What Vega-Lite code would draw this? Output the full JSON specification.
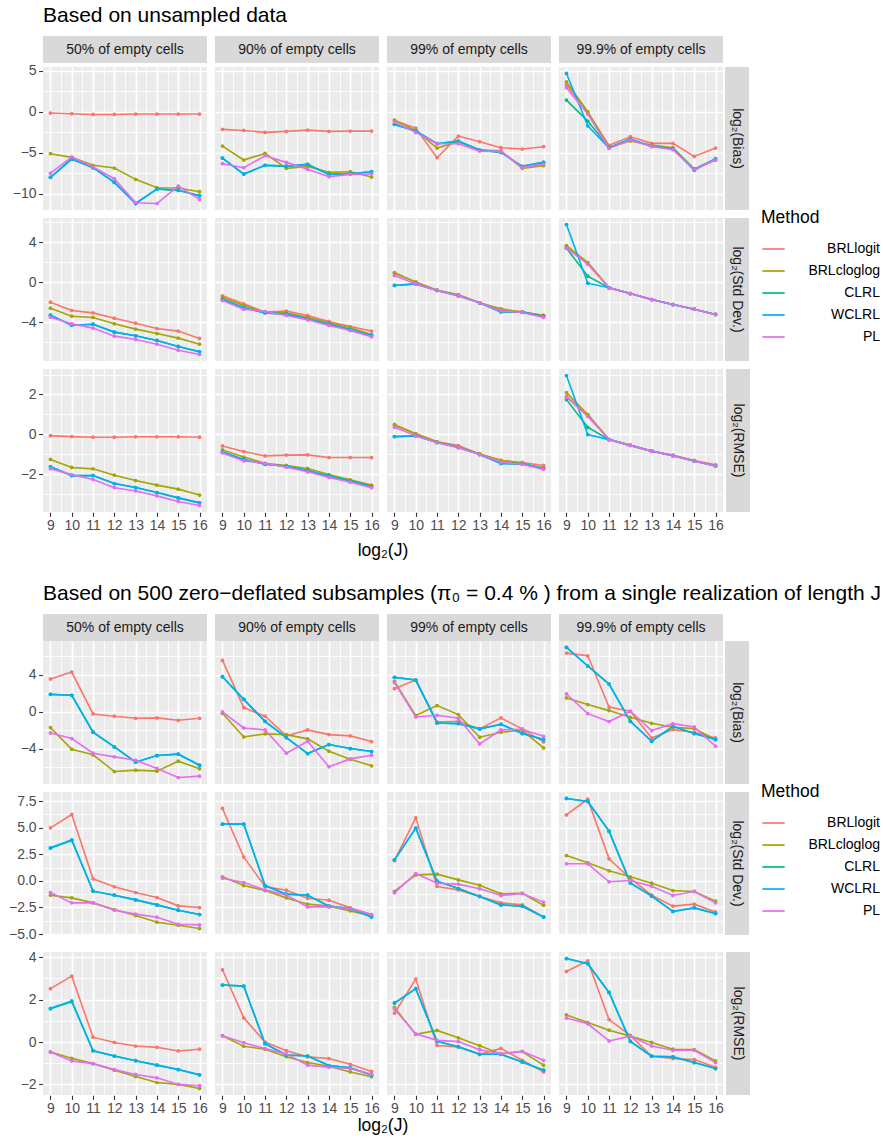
{
"$schema": "https://vega.github.io/schema/vega-lite/v6.json",
"autosize": {"type": "pad"},
"padding": {"left": 8, "top": 5, "right": 5, "bottom": 5},
"datasets": {
"top": [
{"s":"50","k":"BRLlogit","J":9,"b":-0.16,"sd":-1.99,"r":-0.07},
{"s":"50","k":"BRLlogit","J":10,"b":-0.24,"sd":-2.82,"r":-0.12},
{"s":"50","k":"BRLlogit","J":11,"b":-0.33,"sd":-3.06,"r":-0.15},
{"s":"50","k":"BRLlogit","J":12,"b":-0.33,"sd":-3.59,"r":-0.15},
{"s":"50","k":"BRLlogit","J":13,"b":-0.28,"sd":-4.09,"r":-0.13},
{"s":"50","k":"BRLlogit","J":14,"b":-0.28,"sd":-4.62,"r":-0.13},
{"s":"50","k":"BRLlogit","J":15,"b":-0.28,"sd":-4.88,"r":-0.13},
{"s":"50","k":"BRLlogit","J":16,"b":-0.28,"sd":-5.61,"r":-0.15},
{"s":"50","k":"BRLcloglog","J":9,"b":-5.12,"sd":-2.59,"r":-1.27},
{"s":"50","k":"BRLcloglog","J":10,"b":-5.57,"sd":-3.39,"r":-1.67},
{"s":"50","k":"BRLcloglog","J":11,"b":-6.54,"sd":-3.52,"r":-1.74},
{"s":"50","k":"BRLcloglog","J":12,"b":-6.87,"sd":-4.15,"r":-2.06},
{"s":"50","k":"BRLcloglog","J":13,"b":-8.25,"sd":-4.68,"r":-2.33},
{"s":"50","k":"BRLcloglog","J":14,"b":-9.27,"sd":-5.12,"r":-2.56},
{"s":"50","k":"BRLcloglog","J":15,"b":-9.31,"sd":-5.58,"r":-2.76},
{"s":"50","k":"BRLcloglog","J":16,"b":-9.76,"sd":-6.18,"r":-3.06},
{"s":"50","k":"CLRL","J":9,"b":-8.0,"sd":-3.29,"r":-1.64},
{"s":"50","k":"CLRL","J":10,"b":-5.77,"sd":-4.29,"r":-2.08},
{"s":"50","k":"CLRL","J":11,"b":-6.83,"sd":-4.19,"r":-2.08},
{"s":"50","k":"CLRL","J":12,"b":-8.62,"sd":-4.98,"r":-2.48},
{"s":"50","k":"CLRL","J":13,"b":-11.2,"sd":-5.35,"r":-2.68},
{"s":"50","k":"CLRL","J":14,"b":-9.43,"sd":-5.81,"r":-2.93},
{"s":"50","k":"CLRL","J":15,"b":-9.59,"sd":-6.41,"r":-3.2},
{"s":"50","k":"CLRL","J":16,"b":-10.24,"sd":-6.94,"r":-3.45},
{"s":"50","k":"WCLRL","J":9,"b":-8.0,"sd":-3.29,"r":-1.64},
{"s":"50","k":"WCLRL","J":10,"b":-5.77,"sd":-4.29,"r":-2.08},
{"s":"50","k":"WCLRL","J":11,"b":-6.83,"sd":-4.19,"r":-2.08},
{"s":"50","k":"WCLRL","J":12,"b":-8.62,"sd":-4.98,"r":-2.48},
{"s":"50","k":"WCLRL","J":13,"b":-11.2,"sd":-5.35,"r":-2.68},
{"s":"50","k":"WCLRL","J":14,"b":-9.43,"sd":-5.81,"r":-2.93},
{"s":"50","k":"WCLRL","J":15,"b":-9.59,"sd":-6.41,"r":-3.2},
{"s":"50","k":"WCLRL","J":16,"b":-10.24,"sd":-6.94,"r":-3.45},
{"s":"50","k":"PL","J":9,"b":-7.48,"sd":-3.49,"r":-1.74},
{"s":"50","k":"PL","J":10,"b":-5.53,"sd":-4.15,"r":-2.03},
{"s":"50","k":"PL","J":11,"b":-6.75,"sd":-4.58,"r":-2.28},
{"s":"50","k":"PL","J":12,"b":-8.17,"sd":-5.38,"r":-2.69},
{"s":"50","k":"PL","J":13,"b":-11.1,"sd":-5.71,"r":-2.85},
{"s":"50","k":"PL","J":14,"b":-11.2,"sd":-6.18,"r":-3.1},
{"s":"50","k":"PL","J":15,"b":-9.07,"sd":-6.78,"r":-3.38},
{"s":"50","k":"PL","J":16,"b":-10.7,"sd":-7.21,"r":-3.58},
{"s":"90","k":"BRLlogit","J":9,"b":-2.15,"sd":-1.36,"r":-0.59},
{"s":"90","k":"BRLlogit","J":10,"b":-2.28,"sd":-2.16,"r":-0.87},
{"s":"90","k":"BRLlogit","J":11,"b":-2.52,"sd":-2.99,"r":-1.09},
{"s":"90","k":"BRLlogit","J":12,"b":-2.4,"sd":-2.89,"r":-1.05},
{"s":"90","k":"BRLlogit","J":13,"b":-2.24,"sd":-3.32,"r":-1.04},
{"s":"90","k":"BRLlogit","J":14,"b":-2.4,"sd":-3.92,"r":-1.17},
{"s":"90","k":"BRLlogit","J":15,"b":-2.36,"sd":-4.42,"r":-1.17},
{"s":"90","k":"BRLlogit","J":16,"b":-2.36,"sd":-4.88,"r":-1.17},
{"s":"90","k":"BRLcloglog","J":9,"b":-4.19,"sd":-1.53,"r":-0.79},
{"s":"90","k":"BRLcloglog","J":10,"b":-5.89,"sd":-2.33,"r":-1.15},
{"s":"90","k":"BRLcloglog","J":11,"b":-5.08,"sd":-2.99,"r":-1.46},
{"s":"90","k":"BRLcloglog","J":12,"b":-6.91,"sd":-3.09,"r":-1.57},
{"s":"90","k":"BRLcloglog","J":13,"b":-6.67,"sd":-3.49,"r":-1.72},
{"s":"90","k":"BRLcloglog","J":14,"b":-7.4,"sd":-4.05,"r":-2.03},
{"s":"90","k":"BRLcloglog","J":15,"b":-7.32,"sd":-4.55,"r":-2.29},
{"s":"90","k":"BRLcloglog","J":16,"b":-7.97,"sd":-5.22,"r":-2.56},
{"s":"90","k":"CLRL","J":9,"b":-5.65,"sd":-1.69,"r":-0.89},
{"s":"90","k":"CLRL","J":10,"b":-7.6,"sd":-2.56,"r":-1.27},
{"s":"90","k":"CLRL","J":11,"b":-6.54,"sd":-3.06,"r":-1.51},
{"s":"90","k":"CLRL","J":12,"b":-6.63,"sd":-3.19,"r":-1.61},
{"s":"90","k":"CLRL","J":13,"b":-6.42,"sd":-3.65,"r":-1.82},
{"s":"90","k":"CLRL","J":14,"b":-7.64,"sd":-4.19,"r":-2.11},
{"s":"90","k":"CLRL","J":15,"b":-7.56,"sd":-4.72,"r":-2.34},
{"s":"90","k":"CLRL","J":16,"b":-7.32,"sd":-5.32,"r":-2.63},
{"s":"90","k":"WCLRL","J":9,"b":-5.65,"sd":-1.69,"r":-0.89},
{"s":"90","k":"WCLRL","J":10,"b":-7.6,"sd":-2.56,"r":-1.27},
{"s":"90","k":"WCLRL","J":11,"b":-6.54,"sd":-3.06,"r":-1.51},
{"s":"90","k":"WCLRL","J":12,"b":-6.63,"sd":-3.19,"r":-1.61},
{"s":"90","k":"WCLRL","J":13,"b":-6.42,"sd":-3.65,"r":-1.82},
{"s":"90","k":"WCLRL","J":14,"b":-7.64,"sd":-4.19,"r":-2.11},
{"s":"90","k":"WCLRL","J":15,"b":-7.56,"sd":-4.72,"r":-2.34},
{"s":"90","k":"WCLRL","J":16,"b":-7.32,"sd":-5.32,"r":-2.63},
{"s":"90","k":"PL","J":9,"b":-6.34,"sd":-1.83,"r":-0.94},
{"s":"90","k":"PL","J":10,"b":-6.83,"sd":-2.69,"r":-1.34},
{"s":"90","k":"PL","J":11,"b":-5.37,"sd":-2.92,"r":-1.46},
{"s":"90","k":"PL","J":12,"b":-6.18,"sd":-3.32,"r":-1.66},
{"s":"90","k":"PL","J":13,"b":-7.03,"sd":-3.75,"r":-1.89},
{"s":"90","k":"PL","J":14,"b":-7.93,"sd":-4.32,"r":-2.18},
{"s":"90","k":"PL","J":15,"b":-7.64,"sd":-4.82,"r":-2.41},
{"s":"90","k":"PL","J":16,"b":-7.6,"sd":-5.45,"r":-2.69},
{"s":"99","k":"BRLlogit","J":9,"b":-1.06,"sd":0.86,"r":0.44},
{"s":"99","k":"BRLlogit","J":10,"b":-1.99,"sd":0.03,"r":0.03},
{"s":"99","k":"BRLlogit","J":11,"b":-5.61,"sd":-0.8,"r":-0.38},
{"s":"99","k":"BRLlogit","J":12,"b":-2.97,"sd":-1.26,"r":-0.57},
{"s":"99","k":"BRLlogit","J":13,"b":-3.66,"sd":-2.06,"r":-0.99},
{"s":"99","k":"BRLlogit","J":14,"b":-4.39,"sd":-2.76,"r":-1.32},
{"s":"99","k":"BRLlogit","J":15,"b":-4.55,"sd":-2.96,"r":-1.42},
{"s":"99","k":"BRLlogit","J":16,"b":-4.27,"sd":-3.32,"r":-1.57},
{"s":"99","k":"BRLcloglog","J":9,"b":-1.02,"sd":0.96,"r":0.49},
{"s":"99","k":"BRLcloglog","J":10,"b":-2.28,"sd":0.0,"r":0.02},
{"s":"99","k":"BRLcloglog","J":11,"b":-4.43,"sd":-0.8,"r":-0.38},
{"s":"99","k":"BRLcloglog","J":12,"b":-3.66,"sd":-1.26,"r":-0.62},
{"s":"99","k":"BRLcloglog","J":13,"b":-4.67,"sd":-2.06,"r":-0.99},
{"s":"99","k":"BRLcloglog","J":14,"b":-4.76,"sd":-2.66,"r":-1.31},
{"s":"99","k":"BRLcloglog","J":15,"b":-6.91,"sd":-2.99,"r":-1.47},
{"s":"99","k":"BRLcloglog","J":16,"b":-6.59,"sd":-3.32,"r":-1.69},
{"s":"99","k":"CLRL","J":9,"b":-1.54,"sd":-0.33,"r":-0.12},
{"s":"99","k":"CLRL","J":10,"b":-2.36,"sd":-0.17,"r":-0.08},
{"s":"99","k":"CLRL","J":11,"b":-3.9,"sd":-0.83,"r":-0.42},
{"s":"99","k":"CLRL","J":12,"b":-3.58,"sd":-1.36,"r":-0.67},
{"s":"99","k":"CLRL","J":13,"b":-4.67,"sd":-2.06,"r":-1.02},
{"s":"99","k":"CLRL","J":14,"b":-4.96,"sd":-2.96,"r":-1.47},
{"s":"99","k":"CLRL","J":15,"b":-6.67,"sd":-2.99,"r":-1.49},
{"s":"99","k":"CLRL","J":16,"b":-6.18,"sd":-3.42,"r":-1.72},
{"s":"99","k":"WCLRL","J":9,"b":-1.54,"sd":-0.33,"r":-0.12},
{"s":"99","k":"WCLRL","J":10,"b":-2.36,"sd":-0.17,"r":-0.08},
{"s":"99","k":"WCLRL","J":11,"b":-3.9,"sd":-0.83,"r":-0.42},
{"s":"99","k":"WCLRL","J":12,"b":-3.58,"sd":-1.36,"r":-0.67},
{"s":"99","k":"WCLRL","J":13,"b":-4.67,"sd":-2.06,"r":-1.02},
{"s":"99","k":"WCLRL","J":14,"b":-4.96,"sd":-2.96,"r":-1.47},
{"s":"99","k":"WCLRL","J":15,"b":-6.67,"sd":-2.99,"r":-1.49},
{"s":"99","k":"WCLRL","J":16,"b":-6.18,"sd":-3.42,"r":-1.72},
{"s":"99","k":"PL","J":9,"b":-1.26,"sd":0.66,"r":0.35},
{"s":"99","k":"PL","J":10,"b":-2.52,"sd":-0.17,"r":-0.08},
{"s":"99","k":"PL","J":11,"b":-3.9,"sd":-0.83,"r":-0.42},
{"s":"99","k":"PL","J":12,"b":-3.9,"sd":-1.36,"r":-0.67},
{"s":"99","k":"PL","J":13,"b":-4.8,"sd":-2.06,"r":-1.02},
{"s":"99","k":"PL","J":14,"b":-4.84,"sd":-2.86,"r":-1.41},
{"s":"99","k":"PL","J":15,"b":-6.79,"sd":-3.02,"r":-1.51},
{"s":"99","k":"PL","J":16,"b":-6.42,"sd":-3.52,"r":-1.77},
{"s":"99.9","k":"BRLlogit","J":9,"b":3.33,"sd":3.59,"r":1.91},
{"s":"99.9","k":"BRLlogit","J":10,"b":-0.08,"sd":1.93,"r":0.99},
{"s":"99.9","k":"BRLlogit","J":11,"b":-4.1,"sd":-0.56,"r":-0.27},
{"s":"99.9","k":"BRLlogit","J":12,"b":-3.05,"sd":-1.13,"r":-0.55},
{"s":"99.9","k":"BRLlogit","J":13,"b":-3.86,"sd":-1.73,"r":-0.84},
{"s":"99.9","k":"BRLlogit","J":14,"b":-3.86,"sd":-2.23,"r":-1.05},
{"s":"99.9","k":"BRLlogit","J":15,"b":-5.45,"sd":-2.69,"r":-1.32},
{"s":"99.9","k":"BRLlogit","J":16,"b":-4.43,"sd":-3.22,"r":-1.54},
{"s":"99.9","k":"BRLcloglog","J":9,"b":3.66,"sd":3.65,"r":2.09},
{"s":"99.9","k":"BRLcloglog","J":10,"b":0.0,"sd":1.96,"r":0.99},
{"s":"99.9","k":"BRLcloglog","J":11,"b":-4.35,"sd":-0.56,"r":-0.27},
{"s":"99.9","k":"BRLcloglog","J":12,"b":-3.58,"sd":-1.13,"r":-0.56},
{"s":"99.9","k":"BRLcloglog","J":13,"b":-4.07,"sd":-1.73,"r":-0.85},
{"s":"99.9","k":"BRLcloglog","J":14,"b":-4.39,"sd":-2.23,"r":-1.07},
{"s":"99.9","k":"BRLcloglog","J":15,"b":-6.99,"sd":-2.69,"r":-1.34},
{"s":"99.9","k":"BRLcloglog","J":16,"b":-5.89,"sd":-3.22,"r":-1.58},
{"s":"99.9","k":"CLRL","J":9,"b":1.42,"sd":3.39,"r":1.74},
{"s":"99.9","k":"CLRL","J":10,"b":-1.14,"sd":0.6,"r":0.35},
{"s":"99.9","k":"CLRL","J":11,"b":-4.35,"sd":-0.56,"r":-0.27},
{"s":"99.9","k":"CLRL","J":12,"b":-3.33,"sd":-1.13,"r":-0.56},
{"s":"99.9","k":"CLRL","J":13,"b":-4.23,"sd":-1.73,"r":-0.85},
{"s":"99.9","k":"CLRL","J":14,"b":-4.47,"sd":-2.23,"r":-1.08},
{"s":"99.9","k":"CLRL","J":15,"b":-6.99,"sd":-2.69,"r":-1.35},
{"s":"99.9","k":"CLRL","J":16,"b":-5.77,"sd":-3.22,"r":-1.6},
{"s":"99.9","k":"WCLRL","J":9,"b":4.67,"sd":5.75,"r":2.95},
{"s":"99.9","k":"WCLRL","J":10,"b":-1.71,"sd":-0.1,"r":-0.02},
{"s":"99.9","k":"WCLRL","J":11,"b":-4.43,"sd":-0.56,"r":-0.27},
{"s":"99.9","k":"WCLRL","J":12,"b":-3.33,"sd":-1.13,"r":-0.56},
{"s":"99.9","k":"WCLRL","J":13,"b":-4.23,"sd":-1.73,"r":-0.85},
{"s":"99.9","k":"WCLRL","J":14,"b":-4.55,"sd":-2.23,"r":-1.08},
{"s":"99.9","k":"WCLRL","J":15,"b":-7.15,"sd":-2.69,"r":-1.35},
{"s":"99.9","k":"WCLRL","J":16,"b":-5.73,"sd":-3.22,"r":-1.6},
{"s":"99.9","k":"PL","J":9,"b":2.93,"sd":3.39,"r":1.86},
{"s":"99.9","k":"PL","J":10,"b":-0.28,"sd":1.79,"r":0.9},
{"s":"99.9","k":"PL","J":11,"b":-4.47,"sd":-0.56,"r":-0.27},
{"s":"99.9","k":"PL","J":12,"b":-3.46,"sd":-1.13,"r":-0.56},
{"s":"99.9","k":"PL","J":13,"b":-4.23,"sd":-1.73,"r":-0.85},
{"s":"99.9","k":"PL","J":14,"b":-4.63,"sd":-2.23,"r":-1.08},
{"s":"99.9","k":"PL","J":15,"b":-7.03,"sd":-2.69,"r":-1.35},
{"s":"99.9","k":"PL","J":16,"b":-5.89,"sd":-3.22,"r":-1.6}
],
"bot": [
{"s":"50","k":"BRLlogit","J":9,"b":3.53,"sd":4.98,"r":2.52},
{"s":"50","k":"BRLlogit","J":10,"b":4.29,"sd":6.24,"r":3.11},
{"s":"50","k":"BRLlogit","J":11,"b":-0.25,"sd":0.19,"r":0.23},
{"s":"50","k":"BRLlogit","J":12,"b":-0.5,"sd":-0.56,"r":-0.02},
{"s":"50","k":"BRLlogit","J":13,"b":-0.72,"sd":-1.1,"r":-0.19},
{"s":"50","k":"BRLlogit","J":14,"b":-0.68,"sd":-1.57,"r":-0.25},
{"s":"50","k":"BRLlogit","J":15,"b":-0.94,"sd":-2.35,"r":-0.42},
{"s":"50","k":"BRLlogit","J":16,"b":-0.72,"sd":-2.51,"r":-0.34},
{"s":"50","k":"BRLcloglog","J":9,"b":-1.73,"sd":-1.35,"r":-0.47},
{"s":"50","k":"BRLcloglog","J":10,"b":-4.07,"sd":-1.6,"r":-0.77},
{"s":"50","k":"BRLcloglog","J":11,"b":-4.68,"sd":-2.07,"r":-1.02},
{"s":"50","k":"BRLcloglog","J":12,"b":-6.49,"sd":-2.7,"r":-1.33},
{"s":"50","k":"BRLcloglog","J":13,"b":-6.34,"sd":-3.26,"r":-1.63},
{"s":"50","k":"BRLcloglog","J":14,"b":-6.45,"sd":-3.89,"r":-1.91},
{"s":"50","k":"BRLcloglog","J":15,"b":-5.37,"sd":-4.17,"r":-2.0},
{"s":"50","k":"BRLcloglog","J":16,"b":-6.2,"sd":-4.48,"r":-2.19},
{"s":"50","k":"CLRL","J":9,"b":1.87,"sd":3.07,"r":1.57},
{"s":"50","k":"CLRL","J":10,"b":1.77,"sd":3.8,"r":1.9},
{"s":"50","k":"CLRL","J":11,"b":-2.23,"sd":-0.97,"r":-0.41},
{"s":"50","k":"CLRL","J":12,"b":-3.82,"sd":-1.35,"r":-0.66},
{"s":"50","k":"CLRL","J":13,"b":-5.48,"sd":-1.79,"r":-0.88},
{"s":"50","k":"CLRL","J":14,"b":-4.76,"sd":-2.26,"r":-1.09},
{"s":"50","k":"CLRL","J":15,"b":-4.61,"sd":-2.76,"r":-1.3},
{"s":"50","k":"CLRL","J":16,"b":-5.8,"sd":-3.17,"r":-1.55},
{"s":"50","k":"WCLRL","J":9,"b":1.87,"sd":3.1,"r":1.59},
{"s":"50","k":"WCLRL","J":10,"b":1.77,"sd":3.86,"r":1.94},
{"s":"50","k":"WCLRL","J":11,"b":-2.23,"sd":-0.97,"r":-0.41},
{"s":"50","k":"WCLRL","J":12,"b":-3.82,"sd":-1.35,"r":-0.66},
{"s":"50","k":"WCLRL","J":13,"b":-5.48,"sd":-1.79,"r":-0.88},
{"s":"50","k":"WCLRL","J":14,"b":-4.76,"sd":-2.26,"r":-1.09},
{"s":"50","k":"WCLRL","J":15,"b":-4.61,"sd":-2.76,"r":-1.3},
{"s":"50","k":"WCLRL","J":16,"b":-5.8,"sd":-3.17,"r":-1.55},
{"s":"50","k":"PL","J":9,"b":-2.31,"sd":-1.1,"r":-0.47},
{"s":"50","k":"PL","J":10,"b":-2.92,"sd":-2.07,"r":-0.89},
{"s":"50","k":"PL","J":11,"b":-4.5,"sd":-2.07,"r":-1.02},
{"s":"50","k":"PL","J":12,"b":-4.9,"sd":-2.76,"r":-1.3},
{"s":"50","k":"PL","J":13,"b":-5.26,"sd":-3.13,"r":-1.53},
{"s":"50","k":"PL","J":14,"b":-6.16,"sd":-3.42,"r":-1.69},
{"s":"50","k":"PL","J":15,"b":-7.14,"sd":-4.08,"r":-2.0},
{"s":"50","k":"PL","J":16,"b":-6.99,"sd":-4.14,"r":-2.06},
{"s":"90","k":"BRLlogit","J":9,"b":5.55,"sd":6.8,"r":3.41},
{"s":"90","k":"BRLlogit","J":10,"b":0.43,"sd":2.23,"r":1.14},
{"s":"90","k":"BRLlogit","J":11,"b":-0.5,"sd":-0.53,"r":0.0},
{"s":"90","k":"BRLlogit","J":12,"b":-2.63,"sd":-0.88,"r":-0.41},
{"s":"90","k":"BRLlogit","J":13,"b":-1.98,"sd":-1.63,"r":-0.7},
{"s":"90","k":"BRLlogit","J":14,"b":-2.49,"sd":-1.82,"r":-0.78},
{"s":"90","k":"BRLlogit","J":15,"b":-2.63,"sd":-2.54,"r":-1.05},
{"s":"90","k":"BRLlogit","J":16,"b":-3.24,"sd":-3.17,"r":-1.39},
{"s":"90","k":"BRLcloglog","J":9,"b":-0.18,"sd":0.38,"r":0.3},
{"s":"90","k":"BRLcloglog","J":10,"b":-2.74,"sd":-0.44,"r":-0.2},
{"s":"90","k":"BRLcloglog","J":11,"b":-2.41,"sd":-0.91,"r":-0.34},
{"s":"90","k":"BRLcloglog","J":12,"b":-2.49,"sd":-1.6,"r":-0.69},
{"s":"90","k":"BRLcloglog","J":13,"b":-2.95,"sd":-2.19,"r":-0.97},
{"s":"90","k":"BRLcloglog","J":14,"b":-4.29,"sd":-2.38,"r":-1.14},
{"s":"90","k":"BRLcloglog","J":15,"b":-5.15,"sd":-2.82,"r":-1.41},
{"s":"90","k":"BRLcloglog","J":16,"b":-5.87,"sd":-3.29,"r":-1.64},
{"s":"90","k":"CLRL","J":9,"b":3.78,"sd":5.33,"r":2.69},
{"s":"90","k":"CLRL","J":10,"b":1.33,"sd":5.33,"r":2.64},
{"s":"90","k":"CLRL","J":11,"b":-1.05,"sd":-0.44,"r":-0.08},
{"s":"90","k":"CLRL","J":12,"b":-2.81,"sd":-1.25,"r":-0.61},
{"s":"90","k":"CLRL","J":13,"b":-4.54,"sd":-1.35,"r":-0.66},
{"s":"90","k":"CLRL","J":14,"b":-3.57,"sd":-2.38,"r":-1.11},
{"s":"90","k":"CLRL","J":15,"b":-4.0,"sd":-2.6,"r":-1.22},
{"s":"90","k":"CLRL","J":16,"b":-4.32,"sd":-3.39,"r":-1.56},
{"s":"90","k":"WCLRL","J":9,"b":3.78,"sd":5.33,"r":2.69},
{"s":"90","k":"WCLRL","J":10,"b":1.33,"sd":5.33,"r":2.64},
{"s":"90","k":"WCLRL","J":11,"b":-1.05,"sd":-0.44,"r":-0.08},
{"s":"90","k":"WCLRL","J":12,"b":-2.81,"sd":-1.25,"r":-0.61},
{"s":"90","k":"WCLRL","J":13,"b":-4.54,"sd":-1.35,"r":-0.66},
{"s":"90","k":"WCLRL","J":14,"b":-3.57,"sd":-2.38,"r":-1.11},
{"s":"90","k":"WCLRL","J":15,"b":-4.0,"sd":-2.6,"r":-1.22},
{"s":"90","k":"WCLRL","J":16,"b":-4.32,"sd":-3.39,"r":-1.56},
{"s":"90","k":"PL","J":9,"b":-0.04,"sd":0.25,"r":0.3},
{"s":"90","k":"PL","J":10,"b":-1.77,"sd":-0.16,"r":-0.03},
{"s":"90","k":"PL","J":11,"b":-1.98,"sd":-0.85,"r":-0.31},
{"s":"90","k":"PL","J":12,"b":-4.5,"sd":-1.32,"r":-0.56},
{"s":"90","k":"PL","J":13,"b":-3.21,"sd":-2.45,"r":-1.09},
{"s":"90","k":"PL","J":14,"b":-5.98,"sd":-2.45,"r":-1.19},
{"s":"90","k":"PL","J":15,"b":-5.12,"sd":-2.6,"r":-1.25},
{"s":"90","k":"PL","J":16,"b":-4.72,"sd":-3.17,"r":-1.52},
{"s":"99","k":"BRLlogit","J":9,"b":2.49,"sd":1.91,"r":1.36},
{"s":"99","k":"BRLlogit","J":10,"b":3.42,"sd":5.92,"r":2.97},
{"s":"99","k":"BRLlogit","J":11,"b":-1.12,"sd":-0.53,"r":-0.16},
{"s":"99","k":"BRLlogit","J":12,"b":-1.05,"sd":-0.85,"r":-0.23},
{"s":"99","k":"BRLlogit","J":13,"b":-1.87,"sd":-1.47,"r":-0.58},
{"s":"99","k":"BRLlogit","J":14,"b":-0.68,"sd":-2.07,"r":-0.3},
{"s":"99","k":"BRLlogit","J":15,"b":-1.87,"sd":-2.26,"r":-0.86},
{"s":"99","k":"BRLlogit","J":16,"b":-3.28,"sd":-3.39,"r":-1.41},
{"s":"99","k":"BRLcloglog","J":9,"b":3.28,"sd":-1.0,"r":1.64},
{"s":"99","k":"BRLcloglog","J":10,"b":-0.43,"sd":0.56,"r":0.36},
{"s":"99","k":"BRLcloglog","J":11,"b":0.65,"sd":0.63,"r":0.55},
{"s":"99","k":"BRLcloglog","J":12,"b":-0.32,"sd":0.09,"r":0.2},
{"s":"99","k":"BRLcloglog","J":13,"b":-2.77,"sd":-0.41,"r":-0.17},
{"s":"99","k":"BRLcloglog","J":14,"b":-2.23,"sd":-1.22,"r":-0.56},
{"s":"99","k":"BRLcloglog","J":15,"b":-2.02,"sd":-1.16,"r":-0.45},
{"s":"99","k":"BRLcloglog","J":16,"b":-3.93,"sd":-2.29,"r":-1.09},
{"s":"99","k":"CLRL","J":9,"b":3.71,"sd":1.97,"r":1.84},
{"s":"99","k":"CLRL","J":10,"b":3.42,"sd":4.95,"r":2.52},
{"s":"99","k":"CLRL","J":11,"b":-1.23,"sd":-0.03,"r":0.03},
{"s":"99","k":"CLRL","J":12,"b":-1.3,"sd":-0.72,"r":-0.22},
{"s":"99","k":"CLRL","J":13,"b":-1.87,"sd":-1.47,"r":-0.58},
{"s":"99","k":"CLRL","J":14,"b":-1.37,"sd":-2.26,"r":-0.58},
{"s":"99","k":"CLRL","J":15,"b":-2.38,"sd":-2.38,"r":-0.94},
{"s":"99","k":"CLRL","J":16,"b":-3.03,"sd":-3.39,"r":-1.33},
{"s":"99","k":"WCLRL","J":9,"b":3.71,"sd":1.97,"r":1.84},
{"s":"99","k":"WCLRL","J":10,"b":3.42,"sd":4.95,"r":2.52},
{"s":"99","k":"WCLRL","J":11,"b":-1.23,"sd":-0.03,"r":0.03},
{"s":"99","k":"WCLRL","J":12,"b":-1.3,"sd":-0.72,"r":-0.22},
{"s":"99","k":"WCLRL","J":13,"b":-1.87,"sd":-1.47,"r":-0.58},
{"s":"99","k":"WCLRL","J":14,"b":-1.37,"sd":-2.26,"r":-0.58},
{"s":"99","k":"WCLRL","J":15,"b":-2.38,"sd":-2.38,"r":-0.94},
{"s":"99","k":"WCLRL","J":16,"b":-3.03,"sd":-3.39,"r":-1.33},
{"s":"99","k":"PL","J":9,"b":3.14,"sd":-1.13,"r":1.56},
{"s":"99","k":"PL","J":10,"b":-0.58,"sd":0.69,"r":0.39},
{"s":"99","k":"PL","J":11,"b":-0.4,"sd":-0.22,"r":0.08},
{"s":"99","k":"PL","J":12,"b":-0.72,"sd":-0.31,"r":0.02},
{"s":"99","k":"PL","J":13,"b":-3.5,"sd":-0.75,"r":-0.36},
{"s":"99","k":"PL","J":14,"b":-1.98,"sd":-1.38,"r":-0.55},
{"s":"99","k":"PL","J":15,"b":-1.91,"sd":-1.19,"r":-0.44},
{"s":"99","k":"PL","J":16,"b":-2.67,"sd":-2.0,"r":-0.86},
{"s":"99.9","k":"BRLlogit","J":9,"b":6.34,"sd":6.2,"r":3.33},
{"s":"99.9","k":"BRLlogit","J":10,"b":6.05,"sd":7.68,"r":3.83},
{"s":"99.9","k":"BRLlogit","J":11,"b":0.5,"sd":2.07,"r":1.06},
{"s":"99.9","k":"BRLlogit","J":12,"b":0.04,"sd":0.22,"r":0.31},
{"s":"99.9","k":"BRLlogit","J":13,"b":-2.85,"sd":-1.35,"r":-0.67},
{"s":"99.9","k":"BRLlogit","J":14,"b":-1.95,"sd":-2.38,"r":-0.78},
{"s":"99.9","k":"BRLlogit","J":15,"b":-2.23,"sd":-2.19,"r":-0.83},
{"s":"99.9","k":"BRLlogit","J":16,"b":-2.85,"sd":-2.92,"r":-1.19},
{"s":"99.9","k":"BRLcloglog","J":9,"b":1.48,"sd":2.38,"r":1.28},
{"s":"99.9","k":"BRLcloglog","J":10,"b":0.76,"sd":1.69,"r":0.92},
{"s":"99.9","k":"BRLcloglog","J":11,"b":0.11,"sd":0.94,"r":0.56},
{"s":"99.9","k":"BRLcloglog","J":12,"b":-0.61,"sd":0.38,"r":0.28},
{"s":"99.9","k":"BRLcloglog","J":13,"b":-1.26,"sd":-0.22,"r":-0.02},
{"s":"99.9","k":"BRLcloglog","J":14,"b":-1.69,"sd":-0.91,"r":-0.34},
{"s":"99.9","k":"BRLcloglog","J":15,"b":-1.84,"sd":-1.0,"r":-0.36},
{"s":"99.9","k":"BRLcloglog","J":16,"b":-3.03,"sd":-1.91,"r":-0.89},
{"s":"99.9","k":"CLRL","J":9,"b":6.95,"sd":7.74,"r":3.94},
{"s":"99.9","k":"CLRL","J":10,"b":4.94,"sd":7.46,"r":3.7},
{"s":"99.9","k":"CLRL","J":11,"b":2.99,"sd":4.67,"r":2.34},
{"s":"99.9","k":"CLRL","J":12,"b":-1.05,"sd":-0.19,"r":0.03},
{"s":"99.9","k":"CLRL","J":13,"b":-3.21,"sd":-1.44,"r":-0.67},
{"s":"99.9","k":"CLRL","J":14,"b":-1.59,"sd":-2.88,"r":-0.7},
{"s":"99.9","k":"CLRL","J":15,"b":-2.38,"sd":-2.54,"r":-0.97},
{"s":"99.9","k":"CLRL","J":16,"b":-3.03,"sd":-3.07,"r":-1.25},
{"s":"99.9","k":"WCLRL","J":9,"b":6.95,"sd":7.74,"r":3.94},
{"s":"99.9","k":"WCLRL","J":10,"b":4.94,"sd":7.46,"r":3.7},
{"s":"99.9","k":"WCLRL","J":11,"b":2.99,"sd":4.67,"r":2.34},
{"s":"99.9","k":"WCLRL","J":12,"b":-1.05,"sd":-0.19,"r":0.03},
{"s":"99.9","k":"WCLRL","J":13,"b":-3.21,"sd":-1.44,"r":-0.67},
{"s":"99.9","k":"WCLRL","J":14,"b":-1.59,"sd":-2.88,"r":-0.7},
{"s":"99.9","k":"WCLRL","J":15,"b":-2.38,"sd":-2.54,"r":-0.97},
{"s":"99.9","k":"WCLRL","J":16,"b":-3.03,"sd":-3.07,"r":-1.25},
{"s":"99.9","k":"PL","J":9,"b":1.91,"sd":1.6,"r":1.13},
{"s":"99.9","k":"PL","J":10,"b":-0.22,"sd":1.6,"r":0.86},
{"s":"99.9","k":"PL","J":11,"b":-1.08,"sd":-0.09,"r":0.05},
{"s":"99.9","k":"PL","J":12,"b":0.04,"sd":0.03,"r":0.28},
{"s":"99.9","k":"PL","J":13,"b":-2.05,"sd":-0.5,"r":-0.19},
{"s":"99.9","k":"PL","J":14,"b":-1.3,"sd":-1.38,"r":-0.39},
{"s":"99.9","k":"PL","J":15,"b":-1.66,"sd":-1.0,"r":-0.39},
{"s":"99.9","k":"PL","J":16,"b":-3.75,"sd":-2.07,"r":-0.97}
],
"strips": [
{"s":"50","lab":"50% of empty cells"},
{"s":"90","lab":"90% of empty cells"},
{"s":"99","lab":"99% of empty cells"},
{"s":"99.9","lab":"99.9% of empty cells"}
]
},
"spacing": 23,
"resolve": {"scale": {"y": "independent", "color": "independent"}, "legend": {"color": "independent"}},
"vconcat": [
{
"title": {"text": "Based on unsampled data", "frame": "group"},
"spacing": 8,
"resolve": {"scale": {"y": "independent"}},
"vconcat": [
{
"spacing": 0,
"resolve": {"scale": {"y": "independent"}},
"vconcat": [
{
"data": {"name": "strips"},
"facet": {"column": {"field": "s", "type": "nominal", "header": null}},
"spacing": 8,
"spec": {"width": 164, "height": 27, "view": {"fill": "#D9D9D9", "stroke": null},
"mark": {"type": "text", "fontSize": 14, "color": "#1A1A1A"},
"encoding": {"text": {"field": "lab", "type": "nominal"}}}
},
{
"spacing": 2,
"hconcat": [
{
"data": {"name": "top"},
"facet": {"column": {"field": "s", "type": "nominal", "header": null}},
"spacing": 8,
"spec": {
"width": 164, "height": 143,
"encoding": {
"x": {"field": "J", "type": "quantitative", "scale": {"domain": [8.65, 16.35], "nice": false, "zero": false},
"axis": {"values": [9,9.5,10,10.5,11,11.5,12,12.5,13,13.5,14,14.5,15,15.5,16], "labels": false, "ticks": false, "title": null, "gridWidth": {"condition": {"test": "datum.value % 1 !== 0", "value": 0.85}, "value": 1.7}}},
"y": {"field": "b", "type": "quantitative", "scale": {"domain": [-11.99, 5.46], "nice": false, "zero": false},
"axis": {"values": [-10,-7.5,-5,-2.5,0,2.5,5], "title": null, "labelExpr": "datum.value % 5 === 0 ? format(datum.value, 'd') : ''", "tickOpacity": {"condition": {"test": "datum.value % 5 !== 0", "value": 0}, "value": 1}, "gridWidth": {"condition": {"test": "datum.value % 5 !== 0", "value": 0.85}, "value": 1.7}}},
"color": {"field": "k", "type": "nominal", "scale": {"domain": ["BRLlogit","BRLcloglog","CLRL","WCLRL","PL"], "range": ["#F8766D","#A3A500","#00BF7D","#00B0F6","#E76BF3"]},
"legend": {"title": "Method", "orient": "none", "legendX": 718, "legendY": 173, "symbolType": "stroke", "symbolSize": 500, "symbolStrokeWidth": 1.7, "rowPadding": 2, "titlePadding": 10, "labelAlign": "right", "labelOffset": 94}}
},
"layer": [
{"mark": {"type": "line", "strokeWidth": 1.6}},
{"mark": {"type": "point", "filled": true, "size": 14, "opacity": 1}}
]
}
},
{
"data": {"values": [{"lab": "log₂(Bias)"}]},
"width": 24, "height": 143, "view": {"fill": "#D9D9D9", "stroke": null},
"mark": {"type": "text", "angle": 90, "fontSize": 14, "color": "#1A1A1A"},
"encoding": {"text": {"field": "lab", "type": "nominal"}}
}
]
}
]
},
{
"spacing": 2,
"hconcat": [
{
"data": {"name": "top"},
"facet": {"column": {"field": "s", "type": "nominal", "header": null}},
"spacing": 8,
"spec": {
"width": 164, "height": 143,
"encoding": {
"x": {"field": "J", "type": "quantitative", "scale": {"domain": [8.65, 16.35], "nice": false, "zero": false},
"axis": {"values": [9,9.5,10,10.5,11,11.5,12,12.5,13,13.5,14,14.5,15,15.5,16], "labels": false, "ticks": false, "title": null, "gridWidth": {"condition": {"test": "datum.value % 1 !== 0", "value": 0.85}, "value": 1.7}}},
"y": {"field": "sd", "type": "quantitative", "scale": {"domain": [-7.86, 6.4], "nice": false, "zero": false},
"axis": {"values": [-6,-4,-2,0,2,4,6], "title": null, "labelExpr": "datum.value % 4 === 0 ? format(datum.value, 'd') : ''", "tickOpacity": {"condition": {"test": "datum.value % 4 !== 0", "value": 0}, "value": 1}, "gridWidth": {"condition": {"test": "datum.value % 4 !== 0", "value": 0.85}, "value": 1.7}}},
"color": {"field": "k", "type": "nominal", "scale": {"domain": ["BRLlogit","BRLcloglog","CLRL","WCLRL","PL"], "range": ["#F8766D","#A3A500","#00BF7D","#00B0F6","#E76BF3"]},
"legend": {"title": "Method", "orient": "none", "legendX": 718, "legendY": 173, "symbolType": "stroke", "symbolSize": 500, "symbolStrokeWidth": 1.7, "rowPadding": 2, "titlePadding": 10, "labelAlign": "right", "labelOffset": 94}}
},
"layer": [
{"mark": {"type": "line", "strokeWidth": 1.6}},
{"mark": {"type": "point", "filled": true, "size": 14, "opacity": 1}}
]
}
},
{
"data": {"values": [{"lab": "log₂(Std Dev.)"}]},
"width": 24, "height": 143, "view": {"fill": "#D9D9D9", "stroke": null},
"mark": {"type": "text", "angle": 90, "fontSize": 14, "color": "#1A1A1A"},
"encoding": {"text": {"field": "lab", "type": "nominal"}}
}
]
},
{
"spacing": 2,
"hconcat": [
{
"data": {"name": "top"},
"facet": {"column": {"field": "s", "type": "nominal", "header": {"title": "log₂(J)", "titleOrient": "bottom", "labels": false, "titleFontSize": 17.5, "titleFontWeight": "normal", "titleColor": "#000000", "titlePadding": -1}}},
"spacing": 8,
"spec": {
"width": 164, "height": 143,
"encoding": {
"x": {"field": "J", "type": "quantitative", "scale": {"domain": [8.65, 16.35], "nice": false, "zero": false},
"axis": {"values": [9,9.5,10,10.5,11,11.5,12,12.5,13,13.5,14,14.5,15,15.5,16], "title": null, "labelFlush": false, "labelOverlap": false, "labelExpr": "datum.value % 1 === 0 ? format(datum.value, 'd') : ''", "tickOpacity": {"condition": {"test": "datum.value % 1 !== 0", "value": 0}, "value": 1}, "gridWidth": {"condition": {"test": "datum.value % 1 !== 0", "value": 0.85}, "value": 1.7}}},
"y": {"field": "r", "type": "quantitative", "scale": {"domain": [-3.91, 3.28], "nice": false, "zero": false},
"axis": {"values": [-3,-2,-1,0,1,2,3], "title": null, "labelExpr": "datum.value % 2 === 0 ? format(datum.value, 'd') : ''", "tickOpacity": {"condition": {"test": "datum.value % 2 !== 0", "value": 0}, "value": 1}, "gridWidth": {"condition": {"test": "datum.value % 2 !== 0", "value": 0.85}, "value": 1.7}}},
"color": {"field": "k", "type": "nominal", "scale": {"domain": ["BRLlogit","BRLcloglog","CLRL","WCLRL","PL"], "range": ["#F8766D","#A3A500","#00BF7D","#00B0F6","#E76BF3"]},
"legend": {"title": "Method", "orient": "none", "legendX": 718, "legendY": 173, "symbolType": "stroke", "symbolSize": 500, "symbolStrokeWidth": 1.7, "rowPadding": 2, "titlePadding": 10, "labelAlign": "right", "labelOffset": 94}}
},
"layer": [
{"mark": {"type": "line", "strokeWidth": 1.6}},
{"mark": {"type": "point", "filled": true, "size": 14, "opacity": 1}}
]
}
},
{
"data": {"values": [{"lab": "log₂(RMSE)"}]},
"width": 24, "height": 143, "view": {"fill": "#D9D9D9", "stroke": null},
"mark": {"type": "text", "angle": 90, "fontSize": 14, "color": "#1A1A1A"},
"encoding": {"text": {"field": "lab", "type": "nominal"}}
}
]
}
]
},
{
"title": {"text": "Based on 500 zero−deflated subsamples (π₀ = 0.4 % ) from a single realization of length J", "frame": "group"},
"spacing": 8,
"resolve": {"scale": {"y": "independent"}},
"vconcat": [
{
"spacing": 0,
"resolve": {"scale": {"y": "independent"}},
"vconcat": [
{
"data": {"name": "strips"},
"facet": {"column": {"field": "s", "type": "nominal", "header": null}},
"spacing": 8,
"spec": {"width": 164, "height": 27, "view": {"fill": "#D9D9D9", "stroke": null},
"mark": {"type": "text", "fontSize": 14, "color": "#1A1A1A"},
"encoding": {"text": {"field": "lab", "type": "nominal"}}}
},
{
"spacing": 2,
"hconcat": [
{
"data": {"name": "bot"},
"facet": {"column": {"field": "s", "type": "nominal", "header": null}},
"spacing": 8,
"spec": {
"width": 164, "height": 143,
"encoding": {
"x": {"field": "J", "type": "quantitative", "scale": {"domain": [8.65, 16.35], "nice": false, "zero": false},
"axis": {"values": [9,9.5,10,10.5,11,11.5,12,12.5,13,13.5,14,14.5,15,15.5,16], "labels": false, "ticks": false, "title": null, "gridWidth": {"condition": {"test": "datum.value % 1 !== 0", "value": 0.85}, "value": 1.7}}},
"y": {"field": "b", "type": "quantitative", "scale": {"domain": [-7.84, 7.65], "nice": false, "zero": false},
"axis": {"values": [-6,-4,-2,0,2,4,6], "title": null, "labelExpr": "datum.value % 4 === 0 ? format(datum.value, 'd') : ''", "tickOpacity": {"condition": {"test": "datum.value % 4 !== 0", "value": 0}, "value": 1}, "gridWidth": {"condition": {"test": "datum.value % 4 !== 0", "value": 0.85}, "value": 1.7}}},
"color": {"field": "k", "type": "nominal", "scale": {"domain": ["BRLlogit","BRLcloglog","CLRL","WCLRL","PL"], "range": ["#F8766D","#A3A500","#00BF7D","#00B0F6","#E76BF3"]},
"legend": {"title": "Method", "orient": "none", "legendX": 718, "legendY": 169, "symbolType": "stroke", "symbolSize": 500, "symbolStrokeWidth": 1.7, "rowPadding": 2, "titlePadding": 10, "labelAlign": "right", "labelOffset": 94}}
},
"layer": [
{"mark": {"type": "line", "strokeWidth": 1.6}},
{"mark": {"type": "point", "filled": true, "size": 14, "opacity": 1}}
]
}
},
{
"data": {"values": [{"lab": "log₂(Bias)"}]},
"width": 24, "height": 143, "view": {"fill": "#D9D9D9", "stroke": null},
"mark": {"type": "text", "angle": 90, "fontSize": 14, "color": "#1A1A1A"},
"encoding": {"text": {"field": "lab", "type": "nominal"}}
}
]
}
]
},
{
"spacing": 2,
"hconcat": [
{
"data": {"name": "bot"},
"facet": {"column": {"field": "s", "type": "nominal", "header": null}},
"spacing": 8,
"spec": {
"width": 164, "height": 143,
"encoding": {
"x": {"field": "J", "type": "quantitative", "scale": {"domain": [8.65, 16.35], "nice": false, "zero": false},
"axis": {"values": [9,9.5,10,10.5,11,11.5,12,12.5,13,13.5,14,14.5,15,15.5,16], "labels": false, "ticks": false, "title": null, "gridWidth": {"condition": {"test": "datum.value % 1 !== 0", "value": 0.85}, "value": 1.7}}},
"y": {"field": "sd", "type": "quantitative", "scale": {"domain": [-5.09, 8.35], "nice": false, "zero": false},
"axis": {"values": [-5,-3.75,-2.5,-1.25,0,1.25,2.5,3.75,5,6.25,7.5], "title": null, "labelExpr": "datum.value % 2.5 === 0 ? format(datum.value, '.1f') : ''", "tickOpacity": {"condition": {"test": "datum.value % 2.5 !== 0", "value": 0}, "value": 1}, "gridWidth": {"condition": {"test": "datum.value % 2.5 !== 0", "value": 0.85}, "value": 1.7}}},
"color": {"field": "k", "type": "nominal", "scale": {"domain": ["BRLlogit","BRLcloglog","CLRL","WCLRL","PL"], "range": ["#F8766D","#A3A500","#00BF7D","#00B0F6","#E76BF3"]},
"legend": {"title": "Method", "orient": "none", "legendX": 718, "legendY": 169, "symbolType": "stroke", "symbolSize": 500, "symbolStrokeWidth": 1.7, "rowPadding": 2, "titlePadding": 10, "labelAlign": "right", "labelOffset": 94}}
},
"layer": [
{"mark": {"type": "line", "strokeWidth": 1.6}},
{"mark": {"type": "point", "filled": true, "size": 14, "opacity": 1}}
]
}
},
{
"data": {"values": [{"lab": "log₂(Std Dev.)"}]},
"width": 24, "height": 143, "view": {"fill": "#D9D9D9", "stroke": null},
"mark": {"type": "text", "angle": 90, "fontSize": 14, "color": "#1A1A1A"},
"encoding": {"text": {"field": "lab", "type": "nominal"}}
}
]
},
{
"spacing": 2,
"hconcat": [
{
"data": {"name": "bot"},
"facet": {"column": {"field": "s", "type": "nominal", "header": {"title": "log₂(J)", "titleOrient": "bottom", "labels": false, "titleFontSize": 17.5, "titleFontWeight": "normal", "titleColor": "#000000", "titlePadding": -9}}},
"spacing": 8,
"spec": {
"width": 164, "height": 143,
"encoding": {
"x": {"field": "J", "type": "quantitative", "scale": {"domain": [8.65, 16.35], "nice": false, "zero": false},
"axis": {"values": [9,9.5,10,10.5,11,11.5,12,12.5,13,13.5,14,14.5,15,15.5,16], "title": null, "labelFlush": false, "labelOverlap": false, "labelExpr": "datum.value % 1 === 0 ? format(datum.value, 'd') : ''", "tickOpacity": {"condition": {"test": "datum.value % 1 !== 0", "value": 0}, "value": 1}, "gridWidth": {"condition": {"test": "datum.value % 1 !== 0", "value": 0.85}, "value": 1.7}}},
"y": {"field": "r", "type": "quantitative", "scale": {"domain": [-2.5, 4.25], "nice": false, "zero": false},
"axis": {"values": [-2,-1,0,1,2,3,4], "title": null, "labelExpr": "datum.value % 2 === 0 ? format(datum.value, 'd') : ''", "tickOpacity": {"condition": {"test": "datum.value % 2 !== 0", "value": 0}, "value": 1}, "gridWidth": {"condition": {"test": "datum.value % 2 !== 0", "value": 0.85}, "value": 1.7}}},
"color": {"field": "k", "type": "nominal", "scale": {"domain": ["BRLlogit","BRLcloglog","CLRL","WCLRL","PL"], "range": ["#F8766D","#A3A500","#00BF7D","#00B0F6","#E76BF3"]},
"legend": {"title": "Method", "orient": "none", "legendX": 718, "legendY": 169, "symbolType": "stroke", "symbolSize": 500, "symbolStrokeWidth": 1.7, "rowPadding": 2, "titlePadding": 10, "labelAlign": "right", "labelOffset": 94}}
},
"layer": [
{"mark": {"type": "line", "strokeWidth": 1.6}},
{"mark": {"type": "point", "filled": true, "size": 14, "opacity": 1}}
]
}
},
{
"data": {"values": [{"lab": "log₂(RMSE)"}]},
"width": 24, "height": 143, "view": {"fill": "#D9D9D9", "stroke": null},
"mark": {"type": "text", "angle": 90, "fontSize": 14, "color": "#1A1A1A"},
"encoding": {"text": {"field": "lab", "type": "nominal"}}
}
]
}
]
}
],
"config": {
"font": "Liberation Sans",
"view": {"fill": "#EBEBEB", "stroke": null},
"axis": {"domain": false, "labelFontSize": 14, "labelColor": "#4D4D4D", "tickColor": "#333333", "tickSize": 4.4, "tickWidth": 1.1, "gridColor": "#FFFFFF", "labelPadding": 2.5, "titleFontSize": 17.5, "titleFontWeight": "normal", "titleColor": "#000000", "titlePadding": 4},
"legend": {"titleFontSize": 17.5, "titleFontWeight": "normal", "titleColor": "#000000", "labelFontSize": 14, "labelColor": "#000000"},
"title": {"fontSize": 21, "fontWeight": "normal", "anchor": "start", "color": "#000000", "offset": 10}
}
}
